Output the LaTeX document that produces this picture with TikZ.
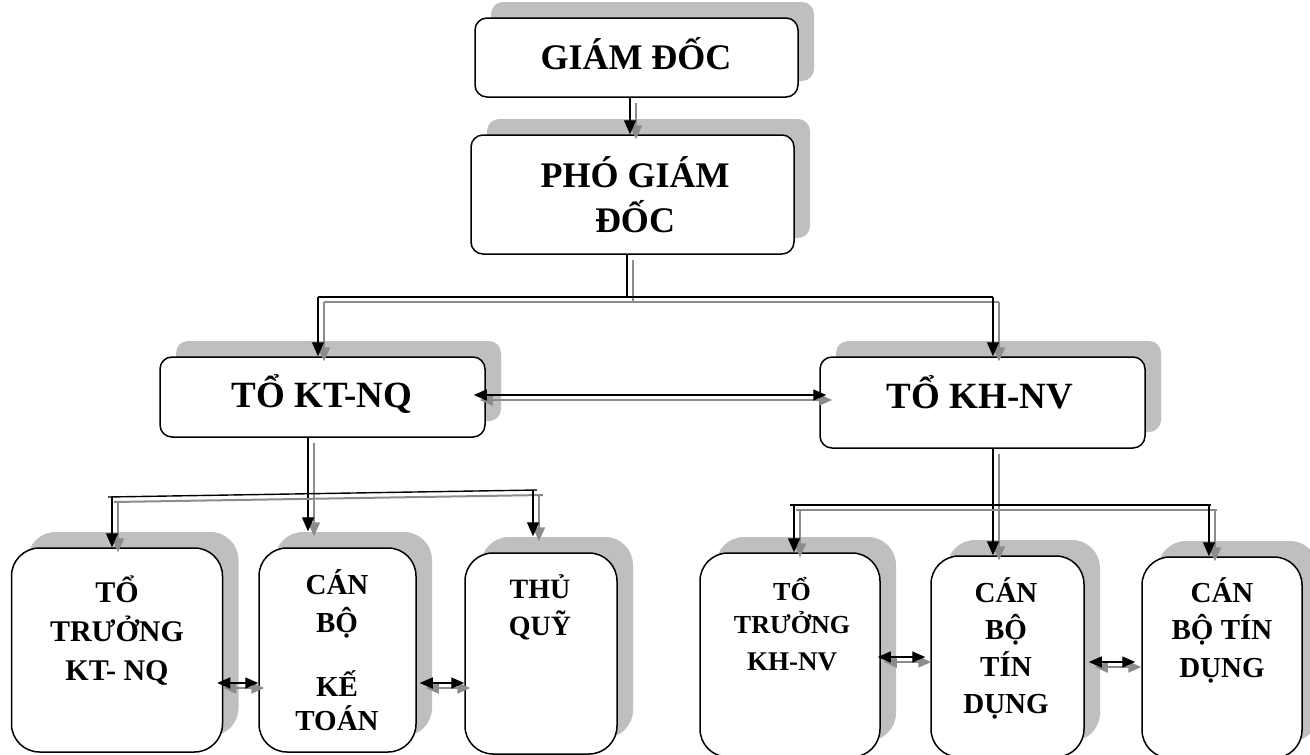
\documentclass[tikz,border=0pt]{standalone}
\usepackage{fontspec}
\setmainfont{Liberation Serif}
\usetikzlibrary{shadows,arrows.meta,calc}
\definecolor{shadowgray}{HTML}{BFBFBF}
\definecolor{conngray}{HTML}{8C8C8C}
\begin{document}
\begin{tikzpicture}[x=1pt,y=-1pt,
  bx/.style={draw, line width=1.5pt, fill=white, rounded corners=12pt, inner sep=0pt,
    drop shadow={shadow xshift=16pt, shadow yshift=16pt, opacity=1, fill=shadowgray, draw=none}},
  bxl/.style={bx, rounded corners=28pt},
  ln/.style={line width=1.4pt, black},
  sh/.style={line width=2pt, conngray, transform canvas={shift={(6pt,-5pt)}}},
  tip/.style={-{Triangle[length=14pt,width=12pt]}},
  dtip/.style={{Triangle[length=13pt,width=11pt]}-{Triangle[length=13pt,width=11pt]}},
  lbl/.style={font=\bfseries, anchor=base, inner sep=0pt}]
\useasboundingbox (0,0) rectangle (1310,755);
\fill[white] (0,0) rectangle (1310,755);

% boxes
\node[bx, minimum width=323pt, minimum height=79pt] (gd) at (636.5,57.5) {};
\node[bx, minimum width=323pt, minimum height=119pt] (pgd) at (632.5,194.5) {};
\node[bx, minimum width=325pt, minimum height=80pt] (kt) at (322.5,397) {};
\node[bx, minimum width=325pt, minimum height=91pt] (kh) at (982.5,402.5) {};
\node[bxl, minimum width=211pt, minimum height=204pt] (l1) at (117,650) {};
\node[bxl, minimum width=157pt, minimum height=204pt] (l2) at (337.5,650) {};
\node[bxl, minimum width=152pt, minimum height=201pt] (l3) at (541,653.5) {};
\node[bxl, minimum width=180pt, minimum height=204pt] (r1) at (790,655) {};
\node[bxl, minimum width=153pt, minimum height=201pt] (r2) at (1007.5,656.5) {};
\node[bxl, minimum width=160pt, minimum height=201pt] (r3) at (1222,657.5) {};

% texts
\node[lbl, font=\fontsize{36}{40}\selectfont\bfseries] (tgd) at (636,69) {GIÁM ĐỐC};
\node[lbl, font=\fontsize{36}{40}\selectfont\bfseries] (tpgd1) at (635,187) {PHÓ GIÁM};
\node[lbl, font=\fontsize{36}{40}\selectfont\bfseries] (tpgd2) at (635,232) {ĐỐC};
\node[lbl, font=\fontsize{37}{40}\selectfont\bfseries] (tkt) at (322,407) {TỔ KT-NQ};
\node[lbl, font=\fontsize{37}{40}\selectfont\bfseries] (tkh) at (980,408) {TỔ KH-NV};

\node[lbl, font=\fontsize{30}{34}\selectfont\bfseries] (tl1a) at (117,602) {TỔ};
\node[lbl, font=\fontsize{30}{34}\selectfont\bfseries] (tl1b) at (117,641) {TRƯỞNG};
\node[lbl, font=\fontsize{30}{34}\selectfont\bfseries] (tl1c) at (117,680) {KT- NQ};

\node[lbl, font=\fontsize{29}{34}\selectfont\bfseries] (tl2a) at (337,594) {CÁN};
\node[lbl, font=\fontsize{29}{34}\selectfont\bfseries] (tl2b) at (337,632) {BỘ};
\node[lbl, font=\fontsize{29}{34}\selectfont\bfseries] (tl2c) at (337,696) {KẾ};
\node[lbl, font=\fontsize{29}{34}\selectfont\bfseries] (tl2d) at (337,730) {TOÁN};

\node[lbl, font=\fontsize{28}{34}\selectfont\bfseries] (tl3a) at (540,598) {THỦ};
\node[lbl, font=\fontsize{28}{34}\selectfont\bfseries] (tl3b) at (540,635) {QUỸ};

\node[lbl, font=\fontsize{26}{30}\selectfont\bfseries] (tr1a) at (792,600) {TỔ};
\node[lbl, font=\fontsize{26}{30}\selectfont\bfseries] (tr1b) at (792,633) {TRƯỞNG};
\node[lbl, font=\fontsize{27}{30}\selectfont\bfseries] (tr1c) at (792,670) {KH-NV};

\node[lbl, font=\fontsize{29}{34}\selectfont\bfseries] (tr2a) at (1006,602) {CÁN};
\node[lbl, font=\fontsize{29}{34}\selectfont\bfseries] (tr2b) at (1006,639) {BỘ};
\node[lbl, font=\fontsize{29}{34}\selectfont\bfseries] (tr2c) at (1006,676) {TÍN};
\node[lbl, font=\fontsize{29}{34}\selectfont\bfseries] (tr2d) at (1006,713) {DỤNG};

\node[lbl, font=\fontsize{29}{34}\selectfont\bfseries] (tr3a) at (1222,602) {CÁN};
\node[lbl, font=\fontsize{29}{34}\selectfont\bfseries] (tr3b) at (1222,639) {BỘ TÍN};
\node[lbl, font=\fontsize{29}{34}\selectfont\bfseries] (tr3c) at (1222,677) {DỤNG};

% coordinates for connector routing
\coordinate (x1) at (630,0);
\coordinate (j1) at (627,297);
\coordinate (bL) at (318,297);
\coordinate (bR) at (993,297);
\coordinate (x2) at (308,0);
\coordinate (lbL) at (112,497);
\coordinate (lbR) at (533,490);
\coordinate (lbA) at (108,497);
\coordinate (lbB) at (537,490);
\coordinate (x3) at (993,0);
\coordinate (rbL) at (790,505);
\coordinate (rbR) at (1211,505);
\coordinate (rd1) at (794,505);
\coordinate (rd3) at (1209,505);

% GIAM DOC -> PHO GIAM DOC
\draw[sh,tip] (gd.south -| x1) -- (pgd.north -| x1);
\draw[ln,tip] (gd.south -| x1) -- (pgd.north -| x1);

% PHO GIAM DOC -> bus
\draw[sh] (pgd.south -| j1) -- (j1);
\draw[ln] (pgd.south -| j1) -- (j1);
\draw[sh] (bL) -- (bR);
\draw[ln] (bL) -- (bR);
\draw[sh,tip] (bL) -- (bL |- kt.north);
\draw[ln,tip] (bL) -- (bL |- kt.north);
\draw[sh,tip] (bR) -- (bR |- kh.north);
\draw[ln,tip] (bR) -- (bR |- kh.north);

% KT-NQ <-> KH-NV
\draw[sh,dtip] ($(kt.east)+(-12,-2)$) -- ($(kh.west |- kt.east)+(7,-2)$);
\draw[ln,dtip] ($(kt.east)+(-12,-2)$) -- ($(kh.west |- kt.east)+(7,-2)$);

% KT-NQ -> lower left
\draw[sh,tip] (kt.south -| x2) -- ($(l2.north -| x2)+(0,-16)$);
\draw[ln,tip] (kt.south -| x2) -- ($(l2.north -| x2)+(0,-16)$);
\draw[sh] (lbA) -- (lbB);
\draw[ln] (lbA) -- (lbB);
\draw[sh,tip] (lbL) -- (lbL |- l1.north);
\draw[ln,tip] (lbL) -- (lbL |- l1.north);
\draw[sh,tip] (lbR) -- ($(lbR |- l3.north)+(0,-16)$);
\draw[ln,tip] (lbR) -- ($(lbR |- l3.north)+(0,-16)$);

% KH-NV -> lower right
\draw[sh,tip] (kh.south -| x3) -- (r2.north -| x3);
\draw[ln,tip] (kh.south -| x3) -- (r2.north -| x3);
\draw[sh] (rbL) -- (rbR);
\draw[ln] (rbL) -- (rbR);
\draw[sh,tip] (rd1) -- (rd1 |- r1.north);
\draw[ln,tip] (rd1) -- (rd1 |- r1.north);
\draw[sh,tip] (rd3) -- (rd3 |- r3.north);
\draw[ln,tip] (rd3) -- (rd3 |- r3.north);

% lower double arrows
\draw[sh,dtip] ($(l1.east)+(-6,33)$) -- ($(l2.west)+(0,33)$);
\draw[ln,dtip] ($(l1.east)+(-6,33)$) -- ($(l2.west)+(0,33)$);
\draw[sh,dtip] ($(l2.east)+(3,33)$) -- ($(l3.west |- l2.east)+(0,33)$);
\draw[ln,dtip] ($(l2.east)+(3,33)$) -- ($(l3.west |- l2.east)+(0,33)$);
\draw[sh,dtip] ($(r1.east)+(-3,2)$) -- ($(r2.west |- r1.east)+(-5,2)$);
\draw[ln,dtip] ($(r1.east)+(-3,2)$) -- ($(r2.west |- r1.east)+(-5,2)$);
\draw[sh,dtip] ($(r2.east)+(4,5.5)$) -- ($(r3.west |- r2.east)+(-6,5.5)$);
\draw[ln,dtip] ($(r2.east)+(4,5.5)$) -- ($(r3.west |- r2.east)+(-6,5.5)$);
\end{tikzpicture}
\end{document}
